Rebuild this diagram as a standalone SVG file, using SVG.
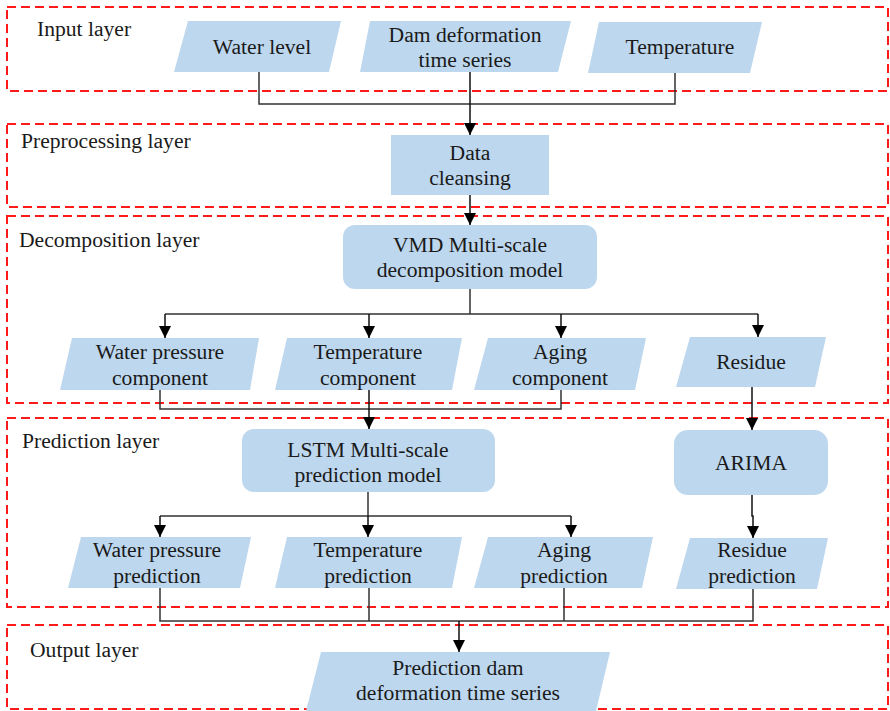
<svg xmlns="http://www.w3.org/2000/svg" width="890" height="711" viewBox="0 0 890 711">
<style>
.layer{fill:none;stroke:#ff1a1a;stroke-width:2;stroke-dasharray:9,5}
.node{fill:#bdd7ee}
.t{font-family:"Liberation Serif","Times New Roman",serif;font-size:21.6px;fill:#1a1a1a;text-anchor:middle}
.lbl{font-family:"Liberation Serif","Times New Roman",serif;font-size:21.6px;fill:#1a1a1a}
.c{fill:none;stroke:#333;stroke-width:1.5}
.a{fill:none;stroke:#111;stroke-width:1.5;marker-end:url(#arr)}
</style>
<defs>
<marker id="arr" markerUnits="userSpaceOnUse" markerWidth="12" markerHeight="12" refX="12" refY="6" orient="auto">
<path d="M0,0 L12,6 L0,12 z" fill="#000"/>
</marker>
</defs>
<rect width="890" height="711" fill="#fff"/>
<g id="layers">
<rect class="layer" x="7" y="7" width="881" height="84"/>
<rect class="layer" x="7" y="124" width="881" height="83"/>
<rect class="layer" x="7" y="216" width="881" height="187"/>
<rect class="layer" x="7" y="418" width="881" height="189"/>
<rect class="layer" x="7" y="625" width="881" height="84"/>
<text class="lbl" x="37" y="36">Input  layer</text>
<text class="lbl" x="21" y="148">Preprocessing layer</text>
<text class="lbl" x="19" y="247">Decomposition layer</text>
<text class="lbl" x="22" y="448">Prediction layer</text>
<text class="lbl" x="30" y="657">Output layer</text>
</g>
<g id="connectors">
<path class="c" d="M259,72 V104 H675 V73"/>
<path class="a" d="M470,72 V135"/>
<path class="a" d="M470,195 V225"/>
<path class="c" d="M470,289 V314 M165,314 H758"/>
<path class="a" d="M165,314 V338"/>
<path class="a" d="M369,314 V338"/>
<path class="a" d="M561,314 V338"/>
<path class="a" d="M758,314 V337"/>
<path class="c" d="M160,390 V409 H561 V390"/>
<path class="a" d="M369,390 V429"/>
<path class="a" d="M752,387 V430"/>
<path class="c" d="M368,492 V516 M160,516 H571"/>
<path class="a" d="M160,516 V537"/>
<path class="a" d="M368,516 V537"/>
<path class="a" d="M571,516 V537"/>
<path class="a" d="M752,495 V516 H753 V538"/>
<path class="c" d="M160,588 V621 H753 V589 M369,588 V621 M564,588 V621"/>
<path class="a" d="M459,621 V652"/>
</g>
<g id="water_level"><polygon class="node" points="188,21 341,21 329,72 174,72"/><text class="t" x="262" y="54">Water level</text></g>
<g id="dam_series"><polygon class="node" points="370,21 571,21 558,72 360,72"/><text class="t" x="465" y="42">Dam deformation</text><text class="t" x="465" y="67">time series</text></g>
<g id="temperature"><polygon class="node" points="599,22 762,22 750,73 588,73"/><text class="t" x="680" y="54">Temperature</text></g>
<g id="data_cleansing"><rect class="node" x="391" y="135" width="158" height="60"/><text class="t" x="470" y="160">Data</text><text class="t" x="470" y="185">cleansing</text></g>
<g id="vmd"><rect class="node" x="343" y="225" width="254" height="64" rx="12"/><text class="t" x="470" y="252">VMD Multi-scale</text><text class="t" x="470" y="277">decomposition model</text></g>
<g id="water_pressure_component"><polygon class="node" points="72,338 259,338 250,390 60,390"/><text class="t" x="160" y="359">Water pressure</text><text class="t" x="160" y="385">component</text></g>
<g id="temperature_component"><polygon class="node" points="287,338 462,338 452,390 275,390"/><text class="t" x="368" y="359">Temperature</text><text class="t" x="368" y="385">component</text></g>
<g id="aging_component"><polygon class="node" points="488,338 646,338 635,390 474,390"/><text class="t" x="560" y="359">Aging</text><text class="t" x="560" y="385">component</text></g>
<g id="residue"><polygon class="node" points="690,337 826,337 815,387 676,387"/><text class="t" x="751" y="369">Residue</text></g>
<g id="lstm"><rect class="node" x="242" y="429" width="253" height="63" rx="12"/><text class="t" x="368" y="457">LSTM Multi-scale</text><text class="t" x="368" y="482">prediction model</text></g>
<g id="arima"><rect class="node" x="674" y="430" width="154" height="65" rx="14"/><text class="t" x="751" y="470">ARIMA</text></g>
<g id="water_pressure_prediction"><polygon class="node" points="81,537 251,537 240,588 68,588"/><text class="t" x="157" y="557">Water pressure</text><text class="t" x="157" y="583">prediction</text></g>
<g id="temperature_prediction"><polygon class="node" points="287,537 462,537 452,588 275,588"/><text class="t" x="368" y="557">Temperature</text><text class="t" x="368" y="583">prediction</text></g>
<g id="aging_prediction"><polygon class="node" points="488,537 653,537 642,588 474,588"/><text class="t" x="564" y="557">Aging</text><text class="t" x="564" y="583">prediction</text></g>
<g id="residue_prediction"><polygon class="node" points="690,538 828,538 817,589 676,589"/><text class="t" x="752" y="557">Residue</text><text class="t" x="752" y="583">prediction</text></g>
<g id="output"><polygon class="node" points="321,652 610,652 596,711 306,711"/><text class="t" x="458" y="675">Prediction dam</text><text class="t" x="458" y="700">deformation time series</text></g>
</svg>
